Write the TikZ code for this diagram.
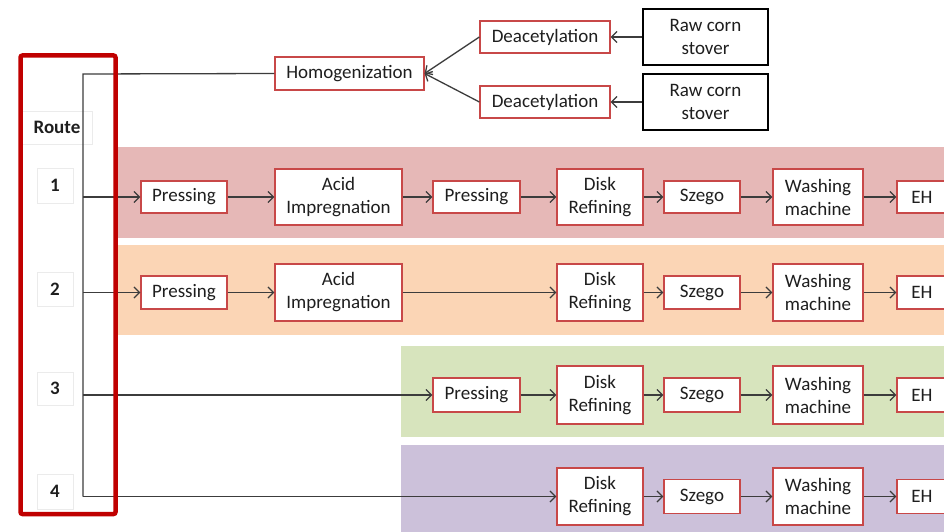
\documentclass[tikz,border=0pt]{standalone}
\usepackage{fontspec}
\setmainfont{Carlito}
\usetikzlibrary{arrows.meta}
\definecolor{boxred}{RGB}{200,72,72}
\definecolor{routered}{RGB}{192,0,0}
\definecolor{linegray}{RGB}{60,60,60}
\definecolor{bandA}{RGB}{230,184,183}
\definecolor{bandB}{RGB}{251,213,181}
\definecolor{bandC}{RGB}{215,228,189}
\definecolor{bandD}{RGB}{204,193,218}
\definecolor{txt}{RGB}{30,30,30}
\tikzset{
  every node/.style={font=\fontsize{19}{23}\selectfont, text=txt, align=center},
  stepbox/.style={draw=boxred, line width=1.2pt, fill=white, inner sep=0pt},
  onebox/.style={stepbox, minimum height=32pt},
  twobox/.style={stepbox, minimum height=56pt},
  srcbox/.style={draw=black, line width=1.2pt, fill=white, inner sep=0pt, minimum width=125pt, minimum height=56pt},
  tagbox/.style={draw=black!8, line width=0.6pt, inner sep=0pt, font=\fontsize{19}{23}\selectfont\bfseries},
  flow/.style={draw=linegray, line width=1.3pt, -{Straight Barb[length=5.5pt,width=11pt,line width=1.3pt]}},
  plain/.style={draw=linegray, line width=1.3pt},
}
\begin{document}
\begin{tikzpicture}[x=1pt,y=-1pt]
\clip (0,0) rectangle (944,532);
\fill[white] (0,0) rectangle (944,532);

% route bands
\fill[bandA] (118,147) rectangle (950,238);
\fill[bandB] (118,245) rectangle (950,335);
\fill[bandC] (401,346) rectangle (950,437);
\fill[bandD] (401,445) rectangle (950,540);

% feedstock preparation
\node[srcbox] (raw1) at (705.5,37) {Raw corn\\stover};
\node[srcbox] (raw2) at (705.5,102) {Raw corn\\stover};
\node[onebox, minimum width=130pt] (dea1) at (545,37) {Deacetylation};
\node[onebox, minimum width=130pt] (dea2) at (545,102) {Deacetylation};
\node[onebox, minimum width=149pt, minimum height=33pt] (hom) at (349.5,73.5) {Homogenization};

% route labels
\node[tagbox, minimum width=70pt, minimum height=33pt] (route) at (57,127.5) {Route};
\node[tagbox, minimum width=36pt, minimum height=35pt] (r1) at (55,185.5) {1};
\node[tagbox, minimum width=36pt, minimum height=34pt] (r2) at (55,289) {2};
\node[tagbox, minimum width=36pt, minimum height=33pt] (r3) at (55,388.5) {3};
\node[tagbox, minimum width=36pt, minimum height=35pt] (r4) at (55,491.5) {4};

% route 1
\node[onebox, minimum width=86pt] (p1a) at (184,197) {Pressing};
\node[twobox, minimum width=127pt] (ai1) at (338.5,197) {Acid\\Impregnation};
\node[onebox, minimum width=87pt] (p1b) at (476.5,197) {Pressing};
\node[twobox, minimum width=86pt] (dr1) at (600,197) {Disk\\Refining};
\node[onebox, minimum width=76pt] (sz1) at (702,197) {Szego};
\node[twobox, minimum width=90pt] (wm1) at (818,197) {Washing\\machine};
\node[onebox, minimum width=50pt] (eh1) at (922,197) {EH};

% route 2
\node[onebox, minimum width=86pt, minimum height=33pt] (p2a) at (184,292.5) {Pressing};
\node[twobox, minimum width=127pt, minimum height=57pt] (ai2) at (338.5,292.5) {Acid\\Impregnation};
\node[twobox, minimum width=86pt, minimum height=57pt] (dr2) at (600,292.5) {Disk\\Refining};
\node[onebox, minimum width=76pt, minimum height=33pt] (sz2) at (702,292.5) {Szego};
\node[twobox, minimum width=90pt, minimum height=57pt] (wm2) at (818,292.5) {Washing\\machine};
\node[onebox, minimum width=50pt, minimum height=33pt] (eh2) at (922,292.5) {EH};

% route 3
\node[onebox, minimum width=87pt, minimum height=34pt] (p3b) at (476.5,395) {Pressing};
\node[twobox, minimum width=86pt, minimum height=58pt] (dr3) at (600,395) {Disk\\Refining};
\node[onebox, minimum width=76pt, minimum height=34pt] (sz3) at (702,395) {Szego};
\node[twobox, minimum width=90pt, minimum height=58pt] (wm3) at (818,395) {Washing\\machine};
\node[onebox, minimum width=50pt, minimum height=34pt] (eh3) at (922,395) {EH};

% route 4
\node[twobox, minimum width=86pt, minimum height=57pt] (dr4) at (600,496.5) {Disk\\Refining};
\node[onebox, minimum width=76pt, minimum height=34pt] (sz4) at (702,496.5) {Szego};
\node[twobox, minimum width=90pt, minimum height=57pt] (wm4) at (818,496.5) {Washing\\machine};
\node[onebox, minimum width=50pt, minimum height=34pt] (eh4) at (922,496.5) {EH};

% feedstock connectors
\draw[flow] (raw1.west) -- (dea1.east);
\draw[flow] (raw2.west) -- (dea2.east);
\draw[flow] (dea1.west) -- (hom.east);
\draw[flow] (dea2.west) -- (hom.east);

% distribution bus
\coordinate (bus0) at (83,74);
\coordinate (bus1) at (83,197);
\coordinate (bus2) at (83,292.5);
\coordinate (bus3) at (83,395);
\coordinate (bus4) at (83,496.5);
\draw[plain] (hom.west) -- (bus0) -- (bus4);
\draw[flow] (bus1) -- (p1a.west);
\draw[flow] (bus2) -- (p2a.west);
\draw[flow] (bus3) -- (p3b.west);
\draw[flow] (bus4) -- (dr4.west);

% process chains
\draw[flow] (p1a) -- (ai1);
\draw[flow] (ai1) -- (p1b);
\draw[flow] (p1b) -- (dr1);
\draw[flow] (dr1) -- (sz1);
\draw[flow] (sz1) -- (wm1);
\draw[flow] (wm1) -- (eh1);

\draw[flow] (p2a) -- (ai2);
\draw[flow] (ai2) -- (dr2);
\draw[flow] (dr2) -- (sz2);
\draw[flow] (sz2) -- (wm2);
\draw[flow] (wm2) -- (eh2);

\draw[flow] (p3b) -- (dr3);
\draw[flow] (dr3) -- (sz3);
\draw[flow] (sz3) -- (wm3);
\draw[flow] (wm3) -- (eh3);

\draw[flow] (dr4) -- (sz4);
\draw[flow] (sz4) -- (wm4);
\draw[flow] (wm4) -- (eh4);

% route frame
\draw[routered, line width=4.5pt, rounded corners=2pt] (20.5,55.5) rectangle (115.5,514);
\end{tikzpicture}
\end{document}
